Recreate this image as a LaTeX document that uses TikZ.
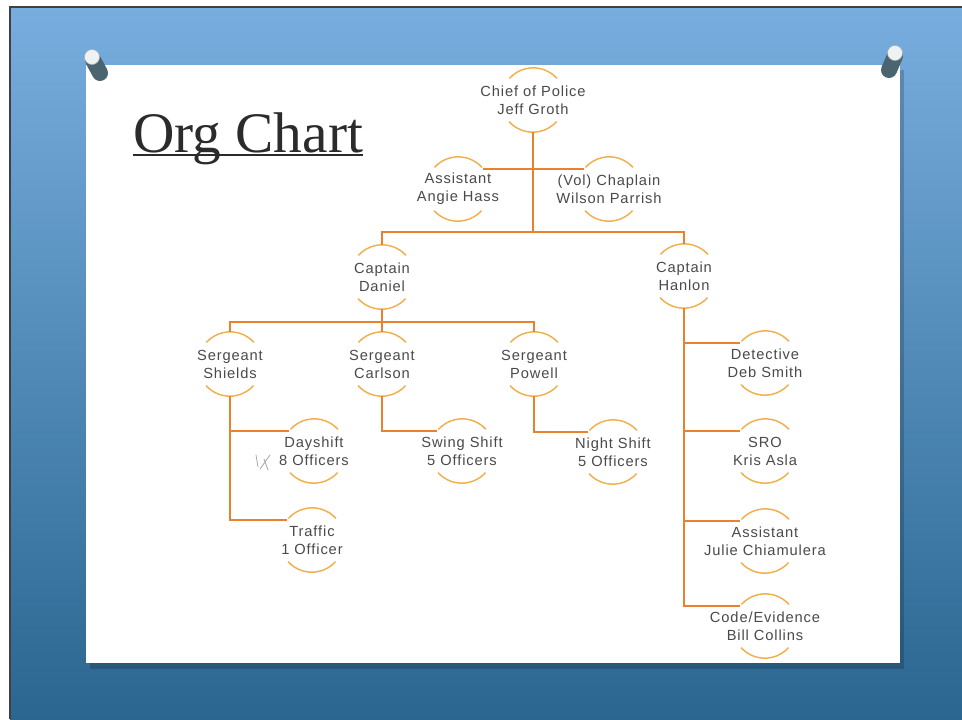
\documentclass[tikz,border=0pt]{standalone}
\usepackage{fontspec}
\setmainfont{Liberation Serif}
\newfontfamily\orgsans[LetterSpace=6]{Liberation Sans}
\usetikzlibrary{calc}
\definecolor{connc}{HTML}{E9812F}
\definecolor{arcc}{HTML}{F1B04E}
\definecolor{txtc}{HTML}{4A4A4A}
\definecolor{titlec}{HTML}{2B2B2B}
\definecolor{bluetop}{HTML}{78AEDF}
\definecolor{bluemid}{HTML}{5A95C8}
\definecolor{bluebot}{HTML}{2A6690}
\definecolor{pinbody}{HTML}{4A6470}
\definecolor{pinhead}{HTML}{EEF2F3}
\begin{document}
\begin{tikzpicture}[x=0.75pt,y=-0.75pt,
  memtext/.style={font=\orgsans\fontsize{11}{13.5}\selectfont,text=txtc,align=center,inner sep=0pt},
  member/.style={circle,minimum size=48pt,inner sep=0pt,label={[memtext]center:#1}},
  connline/.style={draw=connc,line width=1.5pt},
  arcline/.style={draw=arcc,line width=1.1pt},
  pinstem/.style={draw=pinbody,line width=12pt,line cap=round},
  pintop/.style={fill=pinhead,draw=gray!60,line width=0.4pt},
]
\useasboundingbox (0,0) rectangle (962,719);
% background board
\fill[white] (0,0) rectangle (962,719);
\shade[top color=bluetop,middle color=bluemid,bottom color=bluebot] (10,7) rectangle (962,719);
\draw[black!75,line width=1pt] (10,719) -- (10,7) -- (962,7);
% card shadow and card
\fill[black,opacity=0.18] (90,70) rectangle (904,669);
\fill[white] (86,65) rectangle (900,663);
% pins
\draw[pinstem] (93,60) -- (100,73);
\filldraw[pintop] (92,57) circle (7.5);
\draw[pinstem] (895,56) -- (889,70);
\filldraw[pintop] (895,53) circle (7.5);

% title
\node[anchor=base west,inner sep=0pt,font=\fontsize{43}{50}\selectfont,text=titlec] (title) at (133,152) {Org Chart};
\draw[titlec,line width=1.5pt] ([yshift=-2.6pt]title.base west) -- ([yshift=-2.6pt]title.base east);

% members
\node[member={Chief of Police\\Jeff Groth}] (chief) at (533,100) {};
\node[member={Assistant\\Angie Hass}] (asst) at (458,189) {};
\node[member={(Vol) Chaplain\\Wilson Parrish}] (chap) at (609,189) {};
\node[member={Captain\\Daniel}] (daniel) at (382,277) {};
\node[member={Captain\\Hanlon}] (hanlon) at (684,276) {};
\node[member={Sergeant\\Shields}] (shields) at (230,364) {};
\node[member={Sergeant\\Carlson}] (carlson) at (382,364) {};
\node[member={Sergeant\\Powell}] (powell) at (534,364) {};
\node[member={Dayshift\\8 Officers}] (dayshift) at (314,451) {};
\node[member={Traffic\\1 Officer}] (traffic) at (312,540) {};
\node[member={Swing Shift\\5 Officers}] (swing) at (462,451) {};
\node[member={Night Shift\\5 Officers}] (night) at (613,452) {};
\node[member={Detective\\Deb Smith}] (det) at (765,363) {};
\node[member={SRO\\Kris Asla}] (sro) at (765,451) {};
\node[member={Assistant\\Julie Chiamulera}] (julie) at (765,541) {};
\node[member={Code/Evidence\\Bill Collins}] (code) at (765,626) {};

\foreach \n in {chief,asst,chap,daniel,hanlon,shields,carlson,powell,dayshift,traffic,swing,night,det,sro,julie,code}{
  \draw[arcline] (\n.42) arc[start angle=42,end angle=138,radius=24pt];
  \draw[arcline] (\n.222) arc[start angle=222,end angle=318,radius=24pt];
}

% hubs
\coordinate (hubA) at (533,232);
\coordinate (hubB) at (382,322);

% connectors
\draw[connline] (chief.south) -- (hubA);
\draw[connline] (asst.38) -- (chap.142);
\draw[connline] (daniel.north) -- (daniel.north |- hubA) -- (hanlon.north |- hubA) -- (hanlon.north);
\draw[connline] (daniel.south) -- (hubB);
\draw[connline] (shields.north) -- (shields.north |- hubB) -- (powell.north |- hubB) -- (powell.north);
\draw[connline] (carlson.north) -- (carlson.north |- hubB);
\draw[connline] (shields.south) |- (dayshift.142);
\draw[connline] (shields.south) |- (traffic.142);
\draw[connline] (carlson.south) |- (swing.142);
\draw[connline] (powell.south) |- (night.142);
\draw[connline] (hanlon.south) |- (det.142);
\draw[connline] (hanlon.south) |- (sro.142);
\draw[connline] (hanlon.south) |- (julie.142);
\draw[connline] (hanlon.south) |- (code.142);

% handwritten mark beside Dayshift
\draw[gray!70,line width=0.6pt,line cap=round] (256,455) -- (258,467) (260,469) -- (270,455) (264,459) -- (268,470);
\end{tikzpicture}
\end{document}
